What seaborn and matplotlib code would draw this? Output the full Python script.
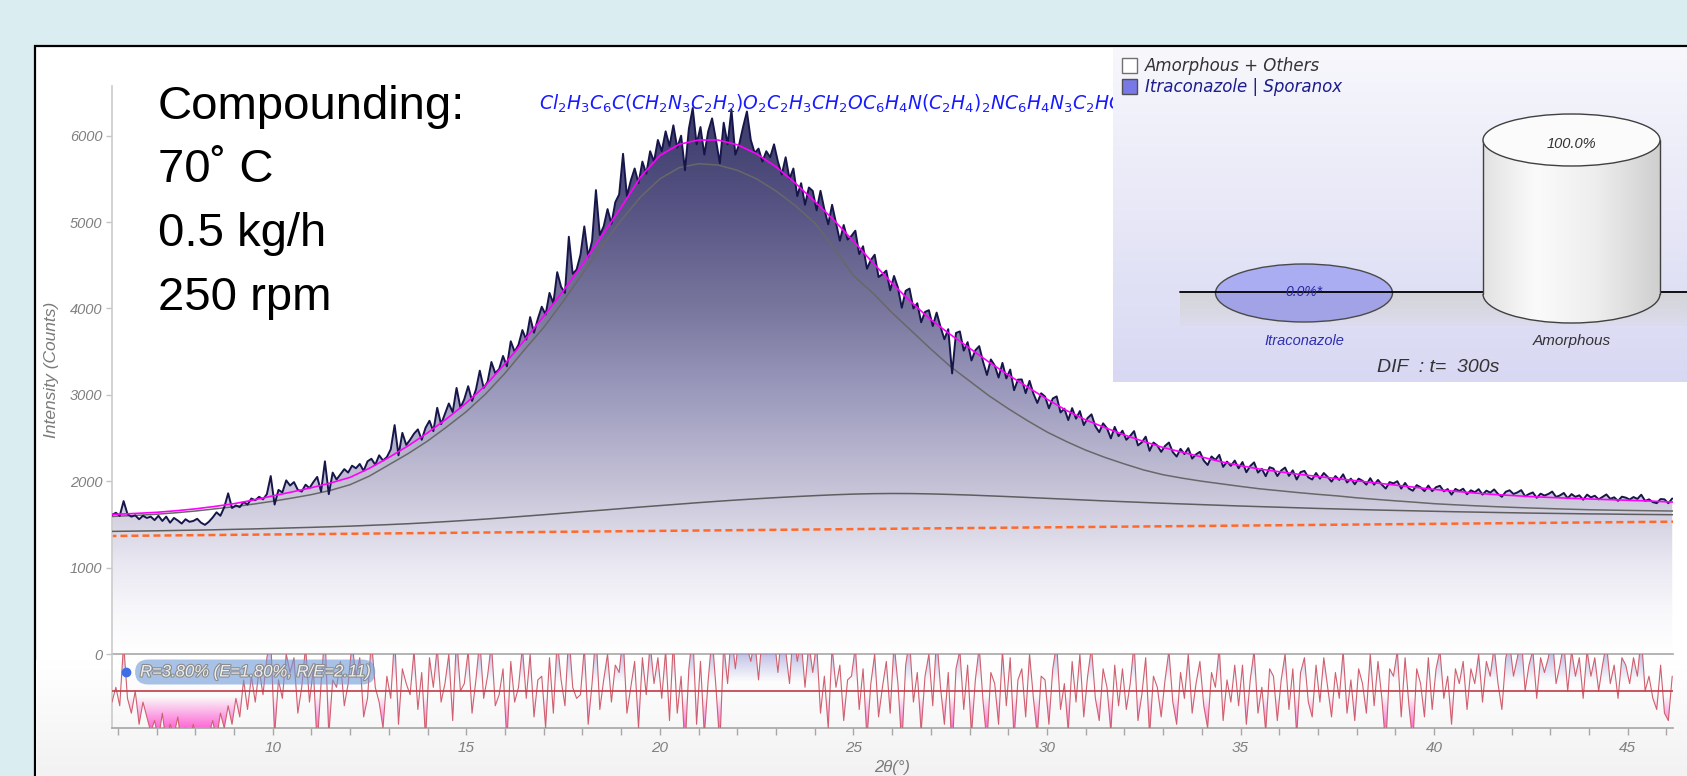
import numpy as np
import pandas as pd
import matplotlib
matplotlib.use("Agg")
import matplotlib.pyplot as plt
import matplotlib.patheffects as pe
import seaborn as sns
from matplotlib.colors import LinearSegmentedColormap, to_rgb
from matplotlib.patches import Rectangle, Ellipse, Arc, Polygon
from matplotlib.ticker import MultipleLocator

# ---------------- data ----------------
scan_start, scan_step = 5.85, 0.1          # step scan, 2theta in degrees
observed = [
    1610,
    1635, 1600, 1770, 1620, 1590, 1605, 1560, 1600, 1575, 1590,
    1550, 1600, 1540, 1590, 1520, 1575, 1545, 1510, 1560, 1530,
    1540, 1565, 1520, 1495, 1530, 1580, 1640, 1600, 1700, 1860,
    1690, 1720, 1700, 1760, 1730, 1800, 1780, 1820, 1790, 1850,
    2060, 1730, 1900, 1870, 2010, 1950, 1990, 1900, 1880, 1960,
    1920, 1990, 2050, 1880, 2230, 1850, 2100, 2020, 2080, 2140,
    2100, 2180, 2150, 2200, 2120, 2230, 2260, 2190, 2300, 2240,
    2280, 2370, 2650, 2300, 2560, 2420, 2480, 2550, 2600, 2480,
    2620, 2700, 2580, 2850, 2660, 2780, 2900, 2800, 3080, 2850,
    2950, 3100, 2930, 3060, 3280, 3080, 3150, 3380, 3250, 3300,
    3450, 3330, 3620, 3500, 3580, 3750, 3640, 3900, 3720, 3880,
    4020, 3930, 4180, 4060, 4420, 4250, 4180, 4830, 4400, 4450,
    4620, 4950, 4600, 4780, 5370, 4850, 4950, 5150, 4980, 5230,
    5320, 5790, 5300, 5480, 5620, 5450, 5700, 5560, 5820, 5700,
    5950, 5820, 6050, 5880, 6120, 5860, 6000, 5600, 6080, 6320,
    5900, 6100, 5780, 6050, 6200, 5950, 5680, 6150, 5900, 6300,
    5780, 5900, 6100, 6280, 5950, 5800, 5850, 5700, 5820, 5750,
    5900, 5700, 5550, 5750, 5500, 5620, 5300, 5450, 5200, 5400,
    5360, 5136, 5362, 5148, 4974, 5200, 4992, 4784, 4966, 4798,
    4840, 4900, 4630, 4720, 4460, 4560, 4622, 4364, 4396, 4438,
    4210, 4376, 4242, 4008, 4204, 4230, 4000, 4060, 3840, 3960,
    3980, 3796, 3952, 3788, 3644, 3760, 3248, 3716, 3734, 3512,
    3610, 3398, 3516, 3564, 3382, 3230, 3410, 3340, 3200, 3370,
    3190, 3292, 3054, 3176, 3178, 3020, 3162, 3014, 2906, 3018,
    2980, 2844, 2958, 2982, 2796, 2840, 2708, 2846, 2724, 2812,
    2650, 2732, 2774, 2636, 2568, 2670, 2613, 2496, 2629, 2522,
    2585, 2480, 2525, 2580, 2415, 2450, 2516, 2352, 2448, 2414,
    2340, 2409, 2448, 2337, 2286, 2375, 2314, 2383, 2262, 2311,
    2340, 2239, 2188, 2287, 2246, 2305, 2166, 2227, 2178, 2239,
    2150, 2222, 2104, 2176, 2218, 2100, 2144, 2058, 2162, 2146,
    2060, 2124, 2158, 2062, 2126, 2020, 2105, 2120, 2045, 2020,
    2095, 2030, 2095, 2050, 1995, 2060, 2015, 2080, 1985, 2030,
    1965, 2030, 2005, 1960, 2035, 1960, 2015, 1960, 1915, 1990,
    1975, 2000, 1915, 1980, 1915, 1890, 1955, 1930, 1885, 1950,
    1885, 1931, 1947, 1883, 1909, 1845, 1911, 1887, 1913, 1849,
    1895, 1872, 1908, 1845, 1891, 1868, 1905, 1853, 1820, 1878,
    1895, 1852, 1870, 1897, 1825, 1852, 1870, 1808, 1856, 1834,
    1852, 1880, 1818, 1836, 1864, 1803, 1851, 1819, 1837, 1786,
    1845, 1813, 1832, 1790, 1819, 1847, 1796, 1814, 1773, 1821,
    1810, 1788, 1817, 1795, 1844, 1772, 1790, 1758, 1746, 1794,
    1790, 1745, 1800,
]
# difference curve (obs - calc), in units of the difference panel half-height
residual = [
    -0.3,
    0.1, -0.4, 1.3, -0.2, -0.6, 0.0, -0.9, -0.3, -0.7, -1.1,
    -0.8, -1.3, -0.6, -1.4, -0.9, -1.2, -0.7, -1.5, -1.0, -1.3,
    -0.9, -1.4, -1.1, -1.6, -1.2, -0.8, -1.3, -0.6, -1.0, -0.4,
    -0.9, -0.2, -0.7, 0.3, -0.5, 0.4, -0.3, 0.6, -0.1, 0.9,
    1.4, -1.2, 0.3, -0.2, 1.0, 0.5, 0.9, -0.6, 0.1, 1.2,
    -0.3, 0.6, -1.5, 0.2, 1.6, -1.2, 0.3, 0.1, 0.8, -0.4,
    0.2, 1.3, 0.4, 0.9, -0.7, -0.2, 1.4, 0.1, -0.3, -1.0,
    0.4, -0.2, 1.5, -0.9, 0.6, 0.2, -0.1, 1.1, -0.5, 0.5,
    -1.3, 0.9, 0.1, 1.2, -0.3, 0.2, 1.0, -0.8, 1.5, 0.0,
    0.2, 1.1, -0.6, 0.3, 1.4, -0.2, 0.4, 1.3, -0.4, -0.1,
    0.6, -1.4, 0.8, -0.3, 0.1, 1.2, -0.2, 1.0, -0.7, 0.3,
    0.4, -1.0, 0.9, -0.6, 1.4, 0.3, -0.4, 1.6, 0.1, -0.2,
    -0.1, 1.2, -0.9, 0.2, 1.6, -0.5, 0.3, 1.0, -0.3, 0.7,
    0.5, 1.5, -0.6, 0.1, 0.8, -1.0, 0.9, -0.1, 1.3, 0.2,
    0.9, -0.2, 1.1, -0.8, 1.4, -0.6, 0.4, -1.6, 0.6, 1.6,
    -0.9, 0.8, -1.2, 0.3, 1.5, 0.1, -1.5, 1.3, 0.2, 1.6,
    0.6, 1.5, 1.7, 1.2, 0.8, 1.4, 0.3, 1.6, 1.0, 1.7,
    1.5, 0.5, 1.6, 1.1, 0.2, 1.7, 0.8, 1.4, 0.1, 1.3,
    0.5, 1.3, -0.6, 0.4, -1.0, 1.2, 0.1, 0.7, -0.8, 0.3,
    0.4, 1.2, -0.5, 0.6, -1.3, 0.2, 1.0, -0.7, 0.1, 0.8,
    -0.6, 1.3, 0.2, -1.5, 0.7, 1.4, -0.3, 0.5, -1.1, 0.4,
    1.0, -0.4, 1.5, 0.1, -0.9, 0.5, -1.7, 0.6, 1.1, -0.5,
    0.7, -1.2, 0.3, 1.2, -0.3, -1.4, 0.5, 0.2, -0.9, 1.1,
    -0.4, 0.9, -1.3, 0.3, 0.6, -0.7, 1.0, -0.2, -1.2, 0.4,
    0.3, -0.9, 0.6, 1.3, -0.5, 0.2, -1.1, 0.8, -0.3, 1.0,
    -0.7, 0.4, 1.2, -0.2, -0.8, 0.6, 0.1, -1.1, 0.7, -0.4,
    0.6, -0.5, 0.2, 1.3, -0.8, -0.1, 0.9, -1.2, 0.4, 0.1,
    -0.7, 0.3, 1.1, -0.3, -0.9, 0.5, -0.2, 1.0, -0.6, 0.2,
    0.8, -0.4, -1.0, 0.5, 0.1, 1.2, -0.8, 0.3, -0.3, 0.7,
    -0.4, 0.7, -0.9, 0.3, 1.1, -0.6, 0.1, -1.1, 0.6, 0.4,
    -0.8, 0.3, 1.0, -0.5, 0.6, -1.2, 0.5, 0.9, -0.3, -0.7,
    0.7, -0.3, 0.9, 0.1, -0.7, 0.5, -0.2, 1.1, -0.6, 0.3,
    -0.8, 0.6, 0.2, -0.6, 1.0, -0.4, 0.8, -0.2, -1.5, 0.6,
    0.4, 1.1, -0.7, 0.9, -0.4, -1.4, 0.6, 0.2, -0.7, 0.9,
    -0.5, 0.6, 1.1, -0.2, 0.4, -0.9, 0.6, 0.2, 0.8, -0.5,
    0.6, 0.2, 1.0, -0.3, 0.8, 0.4, 1.2, 0.2, -0.5, 0.9,
    1.3, 0.4, 0.9, 1.5, 0.0, 0.7, 1.1, -0.2, 0.9, 0.5,
    0.9, 1.5, 0.2, 0.7, 1.3, 0.0, 1.1, 0.4, 0.9, -0.2,
    1.1, 0.4, 0.9, 0.0, 0.7, 1.3, 0.2, 0.7, -0.2, 0.9,
    0.7, 0.2, 0.9, 0.4, 1.5, 0.0, 0.4, -0.2, -0.5, 0.7,
    -0.6, -0.8, 0.4,
]

# calculated curves, every 0.5 deg from 5.5
calc_start, calc_step = 5.5, 0.5
calc_total = [
    1608, 1618, 1628, 1640, 1658, 1680, 1708, 1740, 1782, 1830,
    1876, 1925, 1980, 2045, 2150, 2275, 2410, 2560, 2725, 2905,
    3110, 3360, 3630, 3910, 4200, 4510, 4840, 5170, 5520, 5770,
    5900, 5950, 5950, 5895, 5790, 5640, 5450, 5240, 5020, 4780,
    4530, 4290, 4070, 3870, 3700, 3540, 3380, 3230, 3090, 2950,
    2820, 2710, 2620, 2535, 2460, 2390, 2335, 2280, 2225, 2180,
    2140, 2110, 2080, 2055, 2030, 2005, 1980, 1955, 1930, 1905,
    1885, 1865, 1848, 1835, 1822, 1812, 1803, 1795, 1787, 1780,
    1772, 1762, 1755,
]
calc_amorphous = [
    1585, 1595, 1605, 1618, 1635, 1655, 1680, 1705, 1735, 1768,
    1805, 1845, 1895, 1960, 2060, 2190, 2320, 2465, 2630, 2805,
    3010, 3250, 3520, 3780, 4080, 4400, 4720, 5020, 5290, 5500,
    5630, 5675, 5660, 5600, 5500, 5360, 5190, 4990, 4700, 4380,
    4180, 3950, 3740, 3530, 3330, 3160, 2990, 2840, 2700, 2570,
    2460, 2360, 2275, 2200, 2130, 2075, 2035, 2000, 1970, 1940,
    1912, 1890, 1868, 1848, 1830, 1808, 1790, 1773, 1757, 1740,
    1728, 1717, 1707, 1698, 1690, 1683, 1676, 1670, 1666, 1662,
    1659, 1656, 1654,
]
calc_hump = [
    1418, 1420, 1423, 1426, 1430, 1434, 1438, 1443, 1448, 1454,
    1460, 1466, 1473, 1480, 1489, 1498, 1508, 1520, 1533, 1547,
    1562, 1578, 1595, 1612, 1630, 1648, 1665, 1683, 1701, 1718,
    1735, 1752, 1768, 1783, 1797, 1810, 1822, 1833, 1843, 1851,
    1856, 1858, 1857, 1853, 1847, 1840, 1831, 1822, 1812, 1802,
    1792, 1782, 1772, 1763, 1754, 1745, 1737, 1729, 1721, 1713,
    1706, 1699, 1692, 1685, 1679, 1673, 1667, 1662, 1657, 1652,
    1647, 1643, 1639, 1635, 1631, 1628, 1625, 1622, 1620, 1617,
    1615, 1613, 1611,
]
background_x = [5.5, 26.0, 46.5]
background_y = [1365, 1450, 1533]

y_ticks = [0, 1000, 2000, 3000, 4000, 5000, 6000]
x_ticks = [10, 15, 20, 25, 30, 35, 40, 45]
conditions = ["Compounding:", "70˚ C", "0.5 kg/h", "250 rpm"]
formula = (r"$\mathit{Cl_2H_3C_6C(CH_2N_3C_2H_2)O_2C_2H_3CH_2OC_6H_4N(C_2H_4)_2"
           r"NC_6H_4N_3C_2HOC(CH_3)C_2H_5}$")
fit_label = "R=3.80% (E=1.80%, R/E=2.11)"
legend_labels = ["Amorphous + Others", "Itraconazole | Sporanox"]
phases = ["Itraconazole", "Amorphous"]
phase_pct = ["0.0%*", "100.0%"]
time_label = "DIF  : t=  300s"

# ---------------- style ----------------
sns.set_theme(style="white")
plt.rcParams["font.family"] = ["Liberation Sans", "DejaVu Sans"]
plt.rcParams["mathtext.fontset"] = "dejavusans"

W, H = 1687, 776
fx = lambda px: px / W
fy = lambda py: 1 - py / H

fig = plt.figure(figsize=(W / 100, H / 100), dpi=100)
fig.patch.set_facecolor("#daedf0")

# panel background in pixel coordinates
bg = fig.add_axes([0, 0, 1, 1], zorder=-10)
bg.add_patch(Rectangle((35, 46), W, H, facecolor="white", edgecolor="black", lw=1.6))
grey_fade = LinearSegmentedColormap.from_list("gf", ["#ffffff", "#f2f2f2"])
bg.imshow(np.linspace(0, 1, 64).reshape(-1, 1), cmap=grey_fade,
          extent=[36, W, H, 660], aspect="auto", zorder=1)
bg.set_xlim(0, W)
bg.set_ylim(H, 0)
bg.axis("off")

# ---------------- main pattern ----------------
x_left, x_right = 5.85, 46.17
y_top = 6575
ax = fig.add_axes([fx(112), fy(654), fx(1673 - 112), (654 - 86) / H], zorder=1)
ax.set_facecolor("none")

two_theta = scan_start + scan_step * np.arange(len(observed))
df_obs = pd.DataFrame({"two_theta": two_theta, "intensity": observed})
calc_x = calc_start + calc_step * np.arange(len(calc_total))
df_calc = pd.DataFrame({"two_theta": calc_x, "total": calc_total,
                        "amorphous": calc_amorphous, "hump": calc_hump})

fill_cmap = LinearSegmentedColormap.from_list("fill", [
    (0.0, "#ffffff"), (0.08, "#f7f6fa"), (0.16, "#e9e7f1"), (0.30, "#c4c1d6"),
    (0.46, "#9c9abd"), (0.62, "#77749c"), (0.77, "#5a5787"), (0.90, "#444372"),
    (1.0, "#383766")])
im = ax.imshow(np.linspace(0, 1, 256).reshape(-1, 1), cmap=fill_cmap, origin="lower",
               extent=[two_theta[0], two_theta[-1], 0, y_top], aspect="auto", zorder=1)
verts = [(two_theta[0], 0)] + list(zip(two_theta, observed)) + [(two_theta[-1], 0)]
clip = Polygon(verts, closed=True, facecolor="none", edgecolor="none", transform=ax.transData)
ax.add_patch(clip)
im.set_clip_path(clip)

sns.lineplot(x=background_x, y=background_y, ax=ax, color="#ff6a2b", lw=1.8,
             zorder=2).lines[-1].set_dashes((2.8, 1.6))
sns.lineplot(data=df_calc, x="two_theta", y="hump", ax=ax, color="#5e5e5e", lw=1.1, zorder=3)
sns.lineplot(data=df_calc, x="two_theta", y="amorphous", ax=ax, color="#686868", lw=1.1, zorder=3)
sns.lineplot(data=df_obs, x="two_theta", y="intensity", ax=ax, color="#16164a", lw=1.4,
             estimator=None, sort=False, zorder=4)
sns.lineplot(data=df_calc, x="two_theta", y="total", ax=ax, color="#ff00ff", lw=1.2, zorder=5)

ax.set_xlim(x_left, x_right)
ax.set_ylim(0, y_top)
ax.set_yticks(y_ticks, labels=[str(v) for v in y_ticks], fontstyle="italic",
              color="#808080", fontsize=10.5)
ax.tick_params(axis="y", left=True, length=4, width=1, color="#c4c4c4", pad=3)
ax.tick_params(axis="x", bottom=False, labelbottom=False)
ax.set_xlabel("")
ax.set_ylabel("Intensity (Counts)", fontstyle="italic", color="#7a7a7a", fontsize=12.5)
ax.yaxis.set_label_coords(-0.034, 0.5)
for s in ["top", "right"]:
    ax.spines[s].set_visible(False)
ax.spines["left"].set_color("#cdcdcd")
ax.spines["bottom"].set_color("#a8a8a8")
ax.spines["bottom"].set_linewidth(1.2)

# annotations
for i, line in enumerate(conditions):
    ax.text(fx(158), fy(119 + 63.5 * i), line, transform=fig.transFigure, fontsize=34,
            color="black", ha="left", va="baseline", zorder=8)
ax.text(fx(539), fy(110), formula, transform=fig.transFigure, fontsize=13.5, color="#1a1aff",
        ha="left", va="baseline", zorder=8, clip_on=False)

# ---------------- difference panel ----------------
axr = fig.add_axes([fx(112), fy(728), fx(1673 - 112), (728 - 654) / H], zorder=2, sharex=ax)
axr.set_facecolor("none")
res_x = scan_start + scan_step * np.arange(len(residual))
ry = np.linspace(-1, 1, 200)
rgba = np.zeros((200, 1, 4))
for i, v in enumerate(ry):
    if v > 0:
        rgba[i, 0, :3] = to_rgb("#9a9ad8")
        rgba[i, 0, 3] = np.clip((v - 0.25) / 0.75, 0, 1) * 0.6
    else:
        rgba[i, 0, :3] = to_rgb("#ff4fd0")
        rgba[i, 0, 3] = np.clip((-v - 0.15) / 0.85, 0, 1) * 0.85
rim = axr.imshow(rgba, origin="lower", extent=[res_x[0], res_x[-1], -1, 1], aspect="auto", zorder=1)
rverts = [(res_x[0], 0)] + list(zip(res_x, residual)) + [(res_x[-1], 0)]
rclip = Polygon(rverts, closed=True, facecolor="none", edgecolor="none", transform=axr.transData)
axr.add_patch(rclip)
rim.set_clip_path(rclip)
sns.lineplot(x=res_x, y=residual, ax=axr, color="#d0606f", lw=0.8, estimator=None, sort=False, zorder=3)
axr.axhline(0, color="#c23a4a", lw=1.2, zorder=4)
axr.set_xlim(x_left, x_right)
axr.set_ylim(-1, 1)
axr.set_yticks([])
axr.xaxis.set_major_locator(MultipleLocator(5))
axr.xaxis.set_minor_locator(MultipleLocator(1))
axr.set_xticks(x_ticks, labels=[str(v) for v in x_ticks], fontstyle="italic",
               color="#808080", fontsize=11)
axr.tick_params(axis="x", which="both", bottom=True, direction="out", length=5,
                width=1, color="#a8a8a8", pad=4)
axr.set_xlabel("2θ(°)", fontstyle="italic", color="#7a7a7a", fontsize=12, labelpad=4)
axr.set_ylabel("")
for s in ["top", "right"]:
    axr.spines[s].set_visible(False)
axr.spines["left"].set_color("#cdcdcd")
axr.spines["bottom"].set_color("#a8a8a8")

axr.plot([fx(126)], [fy(672)], "o", ms=6, color="#3d6ee8", transform=fig.transFigure,
         clip_on=False, zorder=6)
axr.text(fx(140), fy(672), fit_label, transform=fig.transFigure, fontsize=12,
         fontstyle="italic", color="#eeeeee", ha="left", va="center", zorder=7,
         path_effects=[pe.withStroke(linewidth=1.6, foreground="#8c8c8c")],
         bbox=dict(boxstyle="round,pad=0.3,rounding_size=0.8", fc="#6f9ad8", ec="none", alpha=0.6))

# ---------------- quantification inset ----------------
ins = fig.add_axes([fx(1113), fy(382), fx(W - 1113), (382 - 48) / H], zorder=5)
ins.imshow(np.linspace(0, 1, 128).reshape(-1, 1),
           cmap=LinearSegmentedColormap.from_list("ib", ["#f7f7fc", "#d8d8f3"]),
           extent=[1113, W, 382, 48], aspect="auto", zorder=0)
ins.imshow(np.linspace(0, 1, 64).reshape(-1, 1),
           cmap=LinearSegmentedColormap.from_list("fl", ["#d4d4d8", "#dcdcee"]),
           extent=[1180, W, 326, 293], aspect="auto", zorder=1)

ins.add_patch(Rectangle((1122, 58), 15, 15, fc="white", ec="#707070", lw=1, zorder=3))
ins.add_patch(Rectangle((1122, 79), 15, 15, fc="#7878e6", ec="#505050", lw=1, zorder=3))
ins.text(1145, 66, legend_labels[0], fontsize=12, fontstyle="italic", color="#333333",
         family="DejaVu Sans", va="center", ha="left", zorder=4)
ins.text(1145, 87, legend_labels[1], fontsize=12, fontstyle="italic", color="#1c1c8c",
         family="DejaVu Sans", va="center", ha="left", zorder=4)

# itraconazole: flat ellipse (0 %)
ins.add_patch(Ellipse((1304, 293), 177, 58, fc="#abadf3", ec="none", zorder=3))
lower = Ellipse((1304, 293), 177, 58, fc="#a1a3e6", ec="none", zorder=3)
ins.add_patch(lower)
lower.set_clip_path(Rectangle((1200, 293), 220, 40, transform=ins.transData))
ins.add_patch(Ellipse((1304, 293), 177, 58, fc="none", ec="#4a4a4a", lw=1, zorder=3.5))
ins.plot([1180, 1483], [292, 292], color="black", lw=1.3, zorder=4)
ins.plot([1660, W], [292, 292], color="black", lw=1.3, zorder=4)

# amorphous: cylinder (100 %)
cx, cw, ctop, cbot = 1571.5, 177, 140, 294
cyl_cmap = LinearSegmentedColormap.from_list("cyl", [
    (0, "#e2e2e2"), (0.3, "#fbfbfb"), (0.65, "#ededed"), (1, "#cfcfcf")])
body = ins.imshow(np.linspace(0, 1, 256).reshape(1, -1), cmap=cyl_cmap,
                  extent=[cx - cw / 2, cx + cw / 2, cbot + 30, ctop], aspect="auto", zorder=5)
body.set_clip_path(Rectangle((cx - cw / 2, ctop), cw, cbot - ctop, transform=ins.transData))
base = ins.imshow(np.linspace(0, 1, 256).reshape(1, -1), cmap=cyl_cmap,
                  extent=[cx - cw / 2, cx + cw / 2, cbot + 30, ctop], aspect="auto", zorder=5)
base.set_clip_path(Ellipse((cx, cbot), cw, 58, transform=ins.transData))
ins.plot([cx - cw / 2, cx - cw / 2], [ctop, cbot], color="#404040", lw=1, zorder=6)
ins.plot([cx + cw / 2, cx + cw / 2], [ctop, cbot], color="#404040", lw=1, zorder=6)
ins.add_patch(Arc((cx, cbot), cw, 58, theta1=0, theta2=180, color="#404040", lw=1, zorder=6))
ins.add_patch(Ellipse((cx, ctop), cw, 52, fc="#fbfbfb", ec="#404040", lw=1, zorder=6))

ins.text(1304, 292, phase_pct[0], fontsize=10, fontstyle="italic", color="#2a2aa0",
         ha="center", va="center", zorder=7)
ins.text(cx, 144, phase_pct[1], fontsize=10.5, fontstyle="italic", color="#333333",
         ha="center", va="center", zorder=7)
ins.text(1304, 341, phases[0], fontsize=10.5, fontstyle="italic", color="#2f2fb0",
         ha="center", va="center", zorder=7)
ins.text(cx, 341, phases[1], fontsize=11, fontstyle="italic", color="#333333",
         ha="center", va="center", zorder=7)
ins.text(1438, 368, time_label, fontsize=14, fontstyle="italic", color="#333333",
         ha="center", va="center", zorder=7)

ins.set_xlim(1113, W)
ins.set_ylim(382, 48)
ins.axis("off")

fig.savefig("out.png", dpi=100)
plt.close()
